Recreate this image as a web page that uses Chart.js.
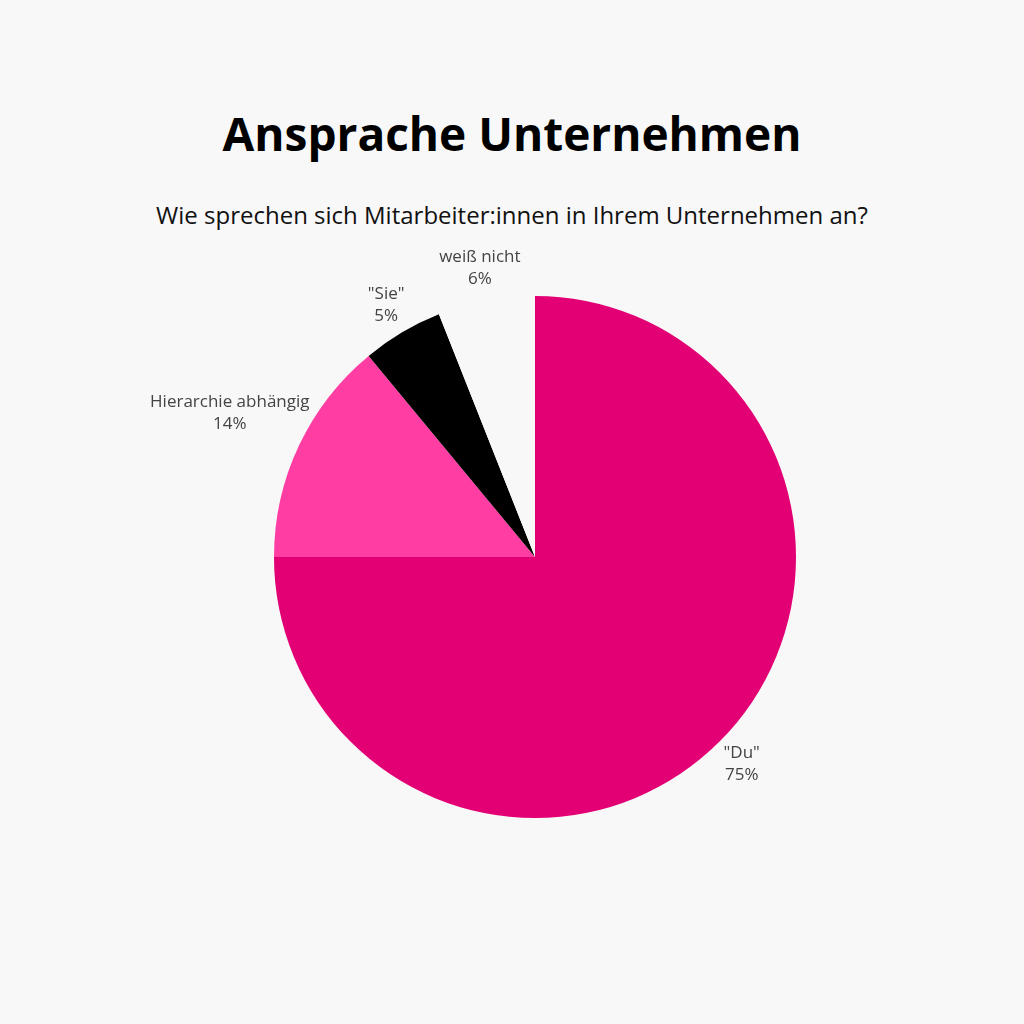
<!DOCTYPE html>
<html>
<head>
<meta charset="utf-8">
<script src="https://cdn.jsdelivr.net/npm/chart.js@4/dist/chart.umd.min.js"></script>
<style>
  html, body { margin: 0; padding: 0; background: #f8f8f8; width: 1024px; height: 1024px; overflow: hidden; font-family: "Open Sans", sans-serif; }
  h1 { position: absolute; top: 102px; left: 0; width: 1024px; margin: 0; text-align: center; font-size: 46px; font-weight: 700; color: #000; }
  h2 { position: absolute; top: 198px; left: 0; width: 1024px; margin: 0; text-align: center; font-size: 24px; font-weight: 400; color: #111; }
  #wrap { position: absolute; left: 0; top: 0; width: 1024px; height: 1024px; }
</style>
</head>
<body>
<h1>Ansprache Unternehmen</h1>
<h2>Wie sprechen sich Mitarbeiter:innen in Ihrem Unternehmen an?</h2>
<div id="wrap"><canvas id="c"></canvas></div>
<script>
const categories = ['"Du"', "Hierarchie abhängig", '"Sie"', "weiß nicht"];
const values = [75, 14, 5, 6];
const colors = ["#e20074", "#ff3da3", "#000000", "#f8f8f8"];

const outsideLabels = {
  id: "outsideLabels",
  afterDatasetsDraw(chart) {
    const ctx = chart.ctx;
    ctx.save();
    ctx.font = "17px 'Open Sans', sans-serif";
    ctx.fillStyle = "#444";
    ctx.textAlign = "center";
    ctx.textBaseline = "middle";
    chart.getDatasetMeta(0).data.forEach((arc, i) => {
      const p = arc.getProps(["x", "y", "startAngle", "endAngle", "outerRadius"], true);
      const mid = (p.startAngle + p.endAngle) / 2;
      const w = ctx.measureText(categories[i]).width;
      const d = p.outerRadius * 1.12 + Math.abs(Math.cos(mid)) * Math.max(0, w - 60) / 2;
      const x = p.x + Math.cos(mid) * d;
      const y = p.y + Math.sin(mid) * d;
      ctx.fillText(categories[i], x, y - 11);
      ctx.fillText(values[i] + "%", x, y + 11);
    });
    ctx.restore();
  },
};

new Chart(document.getElementById("c"), {
  type: "pie",
  data: {
    labels: categories,
    datasets: [{ data: values, backgroundColor: colors, borderWidth: 0 }],
  },
  options: {
    responsive: true,
    maintainAspectRatio: false,
    animation: false,
    layout: { padding: { left: 274, right: 228, top: 296, bottom: 206 } },
    plugins: { legend: { display: false }, tooltip: { enabled: false } },
  },
  plugins: [outsideLabels],
});
</script>
</body>
</html>
